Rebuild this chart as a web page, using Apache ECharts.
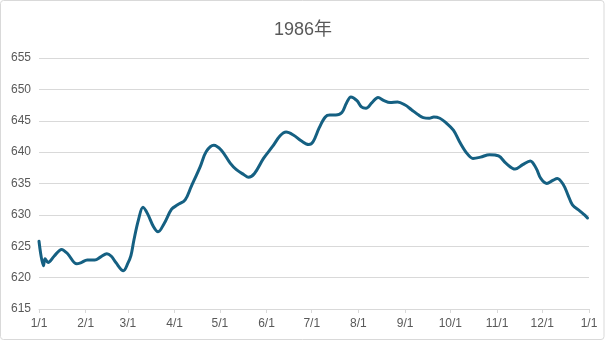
<!DOCTYPE html>
<html>
<head>
<meta charset="utf-8">
<script src="https://cdn.jsdelivr.net/npm/echarts@6/dist/echarts.min.js"></script>
<style>
html,body{margin:0;padding:0;background:#fff;}
#chart{width:606px;height:341px;}
</style>
</head>
<body>
<div id="chart"></div>
<script>
// ---- data ----
var titleText = '1986年';
var dates = ['1/1','1/4','1/5','1/7','1/11','1/16','1/20','1/26','1/29','2/2','2/7','2/11','2/15','2/18','2/21','2/26','3/1','3/3','3/5','3/8','3/11','3/14','3/18','3/21','3/25','3/30',
  '4/3','4/8','4/12','4/18','4/22','4/27','5/2','5/8','5/12','5/17','5/20','5/24','5/30','6/5','6/10','6/14','6/19','6/24','6/29','7/2','7/6','7/10','7/13','7/17','7/21','7/24','7/27','7/31','8/3','8/6','8/10','8/14','8/18','8/22','8/27','9/1','9/5','9/10','9/13','9/17','9/20','9/24','9/28','10/3','10/7','10/12','10/16','10/21','10/27','11/2','11/7','11/13','11/18','11/23','11/27','11/30','12/4','12/8','12/11','12/15','12/18','12/21','12/26','12/29','12/31'];
var values = [625.8,621.9,623.0,622.4,623.4,624.5,623.8,622.2,622.4,622.8,622.8,623.3,623.8,623.4,622.4,621.1,622.3,623.5,626.0,629.2,631.2,630.2,628.1,627.3,628.6,630.9,
  631.6,632.4,634.5,637.7,640.1,641.1,640.3,638.2,637.2,636.4,636.0,636.6,639.0,640.9,642.6,643.2,642.7,641.8,641.2,641.7,643.9,645.6,645.9,645.9,646.3,647.8,648.8,648.2,647.2,647.0,647.9,648.7,648.2,647.9,648.0,647.5,646.8,645.9,645.5,645.4,645.6,645.4,644.7,643.5,641.7,639.8,639.0,639.2,639.6,639.4,638.2,637.3,638.0,638.6,637.4,635.8,635.0,635.5,635.8,634.8,633.2,631.6,630.6,630.0,629.5];
var tickLabels = ['1/1','2/1','3/1','4/1','5/1','6/1','7/1','8/1','9/1','10/1','11/1','12/1','1/1'];
var yTicks = [615,620,625,630,635,640,645,650,655];

// ---- helpers ----
var monthLen = [31,28,31,30,31,30,31,31,30,31,30,31];
var monthStart = [0];
for (var i = 0; i < 12; i++) monthStart.push(monthStart[i] + monthLen[i]);
function dayIndex(md) {
  var p = md.split('/');
  return monthStart[+p[0] - 1] + (+p[1]) - 1;
}
var seriesData = dates.map(function (d, i) { return [dayIndex(d), values[i]]; });

var chart = echarts.init(document.getElementById('chart'));
var font = "'Liberation Sans', Arial, 'Noto Sans CJK SC', sans-serif";
chart.setOption({
  animation: false,
  backgroundColor: '#ffffff',
  title: {
    text: titleText,
    left: 'center',
    top: 16,
    textStyle: { color: '#595959', fontSize: 18, fontWeight: 'normal', fontFamily: font }
  },
  graphic: [{
    type: 'rect',
    shape: { x: 0.5, y: 0.5, width: 603.5, height: 339, r: 3 },
    style: { fill: 'none', stroke: '#d9d9d9', lineWidth: 1 },
    silent: true
  }],
  grid: { left: 39, right: 17, top: 58, bottom: 32, containLabel: false },
  xAxis: {
    type: 'value',
    min: 0,
    max: 365,
    axisLine: { show: true, lineStyle: { color: '#d9d9d9', width: 1 } },
    axisTick: { show: true, length: 4, lineStyle: { color: '#d9d9d9' }, customValues: monthStart },
    splitLine: { show: false },
    axisLabel: {
      customValues: monthStart,
      color: '#595959', fontSize: 12, fontFamily: font, margin: 9,
      formatter: function (v) { var k = monthStart.indexOf(v); return k >= 0 ? tickLabels[k] : ''; }
    }
  },
  yAxis: {
    type: 'value',
    min: yTicks[0],
    max: yTicks[yTicks.length - 1],
    interval: 5,
    axisLine: { show: false },
    axisTick: { show: false },
    splitLine: { lineStyle: { color: '#d9d9d9', width: 1 } },
    axisLabel: { color: '#595959', fontSize: 12, fontFamily: font, margin: 8 }
  },
  series: [{
    type: 'line',
    data: seriesData,
    smooth: 0.35,
    showSymbol: false,
    lineStyle: { color: '#156082', width: 3, cap: 'round', join: 'round' }
  }]
});
</script>
</body>
</html>
